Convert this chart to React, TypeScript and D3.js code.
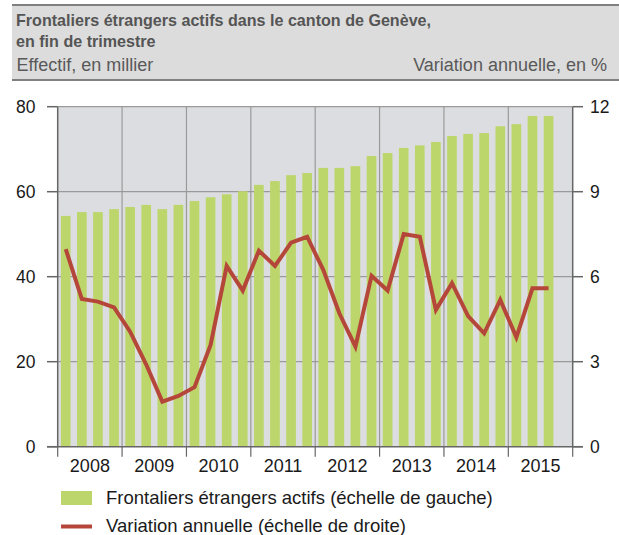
import React from "react";
import * as d3 from "d3";

const years = ["2008", "2009", "2010", "2011", "2012", "2013", "2014", "2015"];
const quarters = [
  "2008Q1","2008Q2","2008Q3","2008Q4","2009Q1","2009Q2","2009Q3","2009Q4",
  "2010Q1","2010Q2","2010Q3","2010Q4","2011Q1","2011Q2","2011Q3","2011Q4",
  "2012Q1","2012Q2","2012Q3","2012Q4","2013Q1","2013Q2","2013Q3","2013Q4",
  "2014Q1","2014Q2","2014Q3","2014Q4","2015Q1","2015Q2","2015Q3",
];
const frontaliers = [
  54.3, 55.2, 55.2, 55.9, 56.4, 56.9, 55.9, 56.9,
  57.8, 58.7, 59.4, 60.1, 61.6, 62.5, 63.9, 64.4,
  65.6, 65.6, 66.0, 68.4, 69.1, 70.3, 70.9, 71.7,
  73.1, 73.6, 73.8, 75.4, 75.9, 77.8, 77.8,
];
const variation = [
  6.97, 5.21, 5.12, 4.92, 4.06, 2.9, 1.59, 1.79,
  2.10, 3.59, 6.38, 5.51, 6.92, 6.38, 7.20, 7.41,
  6.24, 4.71, 3.53, 6.03, 5.51, 7.51, 7.41, 4.83,
  5.77, 4.61, 4.00, 5.18, 3.86, 5.59, 5.59,
];
const leftTicks = [0, 20, 40, 60, 80];
const rightTicks = [0, 3, 6, 9, 12];

const W = 619, H = 535;
const x0 = 57.7, x1 = 572.7, yTop = 106.7, yBot = 446.7;
const FONT = "'Liberation Sans', Arial, sans-serif";

export default function App() {
  const slotCount = years.length * 4;
  const xq = d3.scaleBand<number>().domain(d3.range(slotCount)).range([x0, x1]).paddingInner(0.4).paddingOuter(0.2);
  const xYear = d3.scaleBand<string>().domain(years).range([x0, x1]);
  const yL = d3.scaleLinear().domain([0, 80]).range([yBot, yTop]);
  const yR = d3.scaleLinear().domain([0, 12]).range([yBot, yTop]);
  const cx = (i: number) => (xq(i) as number) + xq.bandwidth() / 2;
  const line = d3.line<number>().x((_, i) => cx(i)).y((d) => yR(d));

  const bounds = years.map((y) => xYear(y) as number).concat([x1]);

  return (
    <svg width={W} height={H} style={{ position: "absolute", left: 0, top: 0, background: "#fff" }} fontFamily={FONT}>
      {/* header */}
      <rect x={12} y={5} width={W - 12} height={75} fill="#dcdcdc" />
      <line x1={12} x2={W} y1={5} y2={5} stroke="#808080" strokeWidth={2} />
      <line x1={12} x2={W} y1={80} y2={80} stroke="#808080" strokeWidth={2} />
      <text x={16} y={26} fontSize={16.1} fontWeight="bold" fill="#555">Frontaliers étrangers actifs dans le canton de Genève,</text>
      <text x={16} y={47} fontSize={16.1} fontWeight="bold" fill="#555">en fin de trimestre</text>
      <text x={16.5} y={71} fontSize={18} fill="#595959">Effectif, en millier</text>
      <text x={607} y={71} fontSize={18} fill="#595959" textAnchor="end">Variation annuelle, en %</text>

      {/* plot background */}
      <rect x={x0} y={yTop} width={x1 - x0} height={yBot - yTop} fill="#dcdde0" />
      {leftTicks.slice(1).map((t) => (
        <line key={"h" + t} x1={x0} x2={x1} y1={yL(t)} y2={yL(t)} stroke="#9a9a9a" strokeWidth={1.2} />
      ))}
      {bounds.slice(1, -1).map((b, i) => (
        <line key={"v" + i} x1={b} x2={b} y1={yTop} y2={yBot} stroke="#9a9a9a" strokeWidth={1.2} />
      ))}

      {/* bars */}
      {frontaliers.map((v, i) => (
        <rect key={quarters[i]} x={xq(i)} y={yL(v)} width={xq.bandwidth()} height={yBot - yL(v)} fill="#bdd66b" />
      ))}

      {/* line */}
      <path d={line(variation) || ""} fill="none" stroke="#b5473a" strokeWidth={4} strokeLinejoin="miter" />

      {/* axes */}
      <line x1={x0} x2={x0} y1={yTop} y2={yBot} stroke="#666" strokeWidth={1.5} />
      <line x1={x1} x2={x1} y1={yTop} y2={yBot} stroke="#666" strokeWidth={1.5} />
      <line x1={47} x2={583} y1={yBot} y2={yBot} stroke="#666" strokeWidth={1.5} />
      {leftTicks.map((t) => (
        <g key={"l" + t}>
          <line x1={47} x2={x0} y1={yL(t)} y2={yL(t)} stroke="#666" strokeWidth={1.5} />
          <text x={35.5} y={yL(t) + 6} fontSize={17.5} fill="#1a1a1a" textAnchor="end">{t}</text>
        </g>
      ))}
      {rightTicks.map((t) => (
        <g key={"r" + t}>
          <line x1={x1} x2={583} y1={yR(t)} y2={yR(t)} stroke="#666" strokeWidth={1.5} />
          <text x={590} y={yR(t) + 6} fontSize={17.5} fill="#1a1a1a">{t}</text>
        </g>
      ))}
      {bounds.map((b, i) => (
        <line key={"bt" + i} x1={b} x2={b} y1={yBot} y2={yBot + 10} stroke="#666" strokeWidth={1.2} />
      ))}
      {years.map((y) => (
        <text key={y} x={(xYear(y) as number) + xYear.bandwidth() / 2} y={472} fontSize={18} fill="#1a1a1a" textAnchor="middle">{y}</text>
      ))}

      {/* legend */}
      <rect x={61} y={491} width={31} height={14} fill="#bdd66b" />
      <text x={106} y={504} fontSize={18.5} fill="#1a1a1a">Frontaliers étrangers actifs (échelle de gauche)</text>
      <line x1={61} x2={92} y1={526.5} y2={526.5} stroke="#b5473a" strokeWidth={4} />
      <text x={106} y={532} fontSize={18.5} fill="#1a1a1a">Variation annuelle (échelle de droite)</text>
    </svg>
  );
}
